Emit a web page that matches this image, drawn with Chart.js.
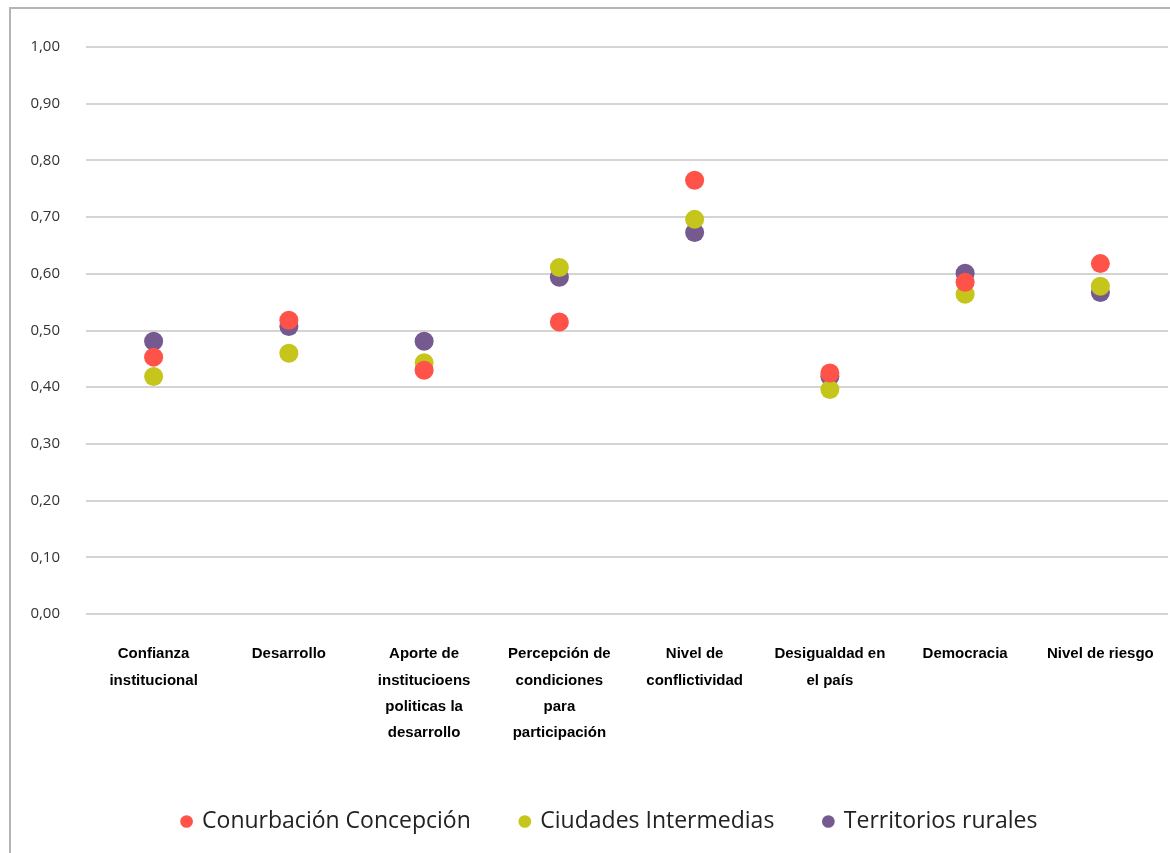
<!DOCTYPE html>
<html>
<head>
<meta charset="utf-8">
<script src="https://cdn.jsdelivr.net/npm/chart.js@4.4.1/dist/chart.umd.min.js"></script>
<style>
  html, body { margin: 0; padding: 0; background: #fff; overflow: hidden; }
  .marco { position: absolute; left: 9px; top: 7px; width: 1200px; height: 900px;
           border-left: 2px solid #b4b4b4; border-top: 2px solid #b4b4b4; }
  .caja { position: absolute; left: 0; top: 0; width: 1170px; height: 853px; }
</style>
</head>
<body>
<div class="marco"></div>
<div class="caja"><canvas id="grafico"></canvas></div>
<script>
const categorias = [
    ['Confianza', 'institucional'],
    'Desarrollo',
    ['Aporte de', 'institucioens', 'politicas la', 'desarrollo'],
    ['Percepción de', 'condiciones', 'para', 'participación'],
    ['Nivel de', 'conflictividad'],
    ['Desigualdad en', 'el país'],
    'Democracia',
    'Nivel de riesgo'
];

const conurbacion = [0.453, 0.518, 0.430, 0.515, 0.765, 0.425, 0.585, 0.618];
const intermedias = [0.419, 0.460, 0.443, 0.611, 0.696, 0.396, 0.564, 0.578];
const rurales     = [0.481, 0.507, 0.481, 0.594, 0.673, 0.419, 0.601, 0.567];

const ctx = document.getElementById('grafico');

function serie(nombre, datos, color) {
    return {
        label: nombre,
        data: datos,
        showLine: false,
        backgroundColor: color,
        borderColor: color,
        pointRadius: 9.5,
        pointHoverRadius: 9.5,
        pointBorderWidth: 0
    };
}

// desplaza la leyenda hacia la derecha, centrada bajo el área del gráfico
const moverLeyenda = {
    id: 'moverLeyenda',
    afterLayout(chart) {
        const desplazamiento = 26;
        chart.legend.left += desplazamiento;
        chart.legend.right += desplazamiento;
    }
};

new Chart(ctx, {
    type: 'line',
    data: {
        labels: categorias,
        datasets: [
            serie('Conurbación Concepción', conurbacion, '#ff5249'),
            serie('Ciudades Intermedias', intermedias, '#c5c51c'),
            serie('Territorios rurales', rurales, '#755a90')
        ]
    },
    plugins: [moverLeyenda],
    options: {
        responsive: true,
        maintainAspectRatio: false,
        animation: false,
        layout: {
            autoPadding: false,
            padding: { top: 47, left: 0, right: 2, bottom: 10 }
        },
        scales: {
            x: {
                offset: true,
                grid: { display: false, drawTicks: false },
                border: { display: false },
                ticks: {
                    padding: 27,
                    maxRotation: 0,
                    autoSkip: false,
                    color: '#000',
                    font: { family: 'Liberation Sans', size: 15, weight: 'bold', lineHeight: 1.75 }
                },
                afterFit: (escala) => {
                    escala.height = 146;
                    escala.paddingLeft = 0;
                    escala.paddingRight = 0;
                }
            },
            y: {
                min: 0,
                max: 1,
                grid: { color: '#d4d4d4', lineWidth: 2, drawTicks: false },
                border: { display: false },
                ticks: {
                    stepSize: 0.1,
                    padding: 26,
                    color: '#333',
                    font: { family: 'Open Sans', size: 15 },
                    callback: (valor) => valor.toFixed(2).replace('.', ',')
                },
                afterFit: (escala) => { escala.width = 86; }
            }
        },
        plugins: {
            legend: {
                position: 'bottom',
                labels: {
                    usePointStyle: true,
                    pointStyle: 'circle',
                    boxWidth: 8,
                    boxHeight: 9,
                    padding: 50,
                    color: '#222',
                    font: { family: 'Open Sans', size: 23 }
                }
            },
            tooltip: { enabled: false }
        }
    }
});
</script>
</body>
</html>
